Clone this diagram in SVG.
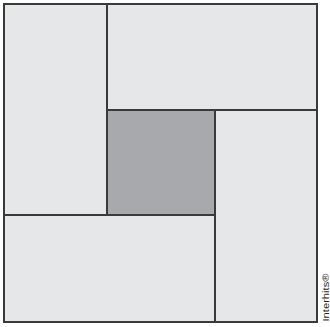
<svg xmlns="http://www.w3.org/2000/svg" width="330" height="327" viewBox="0 0 330 327">
<style>
.p{fill:#e6e7e8;stroke:#3a3a3a;stroke-width:2}
.c{fill:#a7a9ac;stroke:#3a3a3a;stroke-width:2}
.t{font-family:"Liberation Sans",Arial,sans-serif;font-size:9px;fill:#231f20}
</style>
<rect width="330" height="327" fill="#fff"/>
<g id="left"><rect class="p" x="4" y="4" width="103" height="211"/></g>
<g id="top"><rect class="p" x="107" y="4" width="210" height="106"/></g>
<g id="right"><rect class="p" x="215" y="110" width="102" height="212"/></g>
<g id="bottom"><rect class="p" x="4" y="215" width="211" height="107"/></g>
<g id="center"><rect class="c" x="107" y="110" width="108" height="105"/></g>
<text class="t" transform="translate(329,321.5) rotate(-90)" textLength="48" lengthAdjust="spacingAndGlyphs">Interhits®</text>
</svg>
